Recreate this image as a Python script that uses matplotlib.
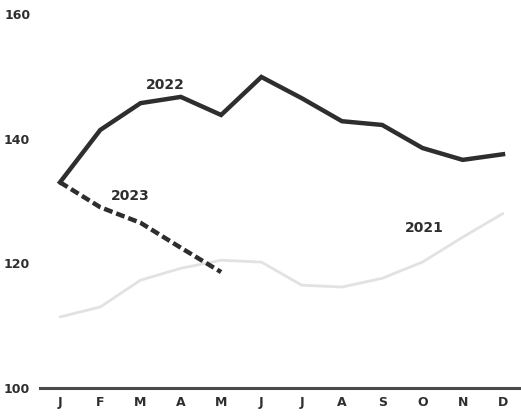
import numpy as np
import matplotlib
matplotlib.use("Agg")
import matplotlib.pyplot as plt

# data
months = ["J", "F", "M", "A", "M", "J", "J", "A", "S", "O", "N", "D"]
y2021 = [111.4, 113.0, 117.3, 119.2, 120.5, 120.2, 116.5, 116.2, 117.6, 120.2, 124.2, 128.0]
y2022 = [133.0, 141.4, 145.7, 146.7, 143.8, 149.9, 146.5, 142.8, 142.2, 138.5, 136.6, 137.5]
y2023 = [133.0, 129.0, 126.5, 122.5, 118.6]
yticks = [100, 120, 140, 160]

plt.rcParams['font.family'] = ['DejaVu Sans']

fig = plt.figure(figsize=(5.21, 4.19), dpi=100)
ax = fig.add_axes([40 / 521, 31 / 419, 481 / 521, 374 / 419])

x = np.arange(len(months))
ax.plot(x, y2021, color="#e2e2e2", lw=2.0, solid_capstyle="round", solid_joinstyle="round")
ax.plot(x, y2022, color="#2e2e2e", lw=3.2, solid_joinstyle="miter")
ax.plot(x[:len(y2023)], y2023, color="#2e2e2e", lw=3.2, ls=(0, (2.0, 0.9)))

ax.text(2.62, 148.6, "2022", fontsize=10, fontweight="bold", color="#2e2e2e", ha="center", va="center")
ax.text(1.75, 130.8, "2023", fontsize=10, fontweight="bold", color="#2e2e2e", ha="center", va="center")
ax.text(9.05, 125.6, "2021", fontsize=10, fontweight="bold", color="#2e2e2e", ha="center", va="center")

ax.set_xlim(-0.497, 11.447)
ax.set_ylim(100, 160)
ax.set_xticks(x)
ax.set_xticklabels(months)
ax.set_yticks(yticks)
ax.tick_params(axis="both", length=0, labelsize=9, colors="#2e2e2e")
ax.tick_params(axis="x", pad=6)
ax.tick_params(axis="y", pad=7)
for lab in ax.get_xticklabels() + ax.get_yticklabels():
    lab.set_fontweight("bold")

for s in ["top", "right", "left"]:
    ax.spines[s].set_visible(False)
ax.spines["bottom"].set_color("#4a4a4a")
ax.spines["bottom"].set_linewidth(2.2)

fig.savefig("out.png", dpi=100, facecolor="white")
